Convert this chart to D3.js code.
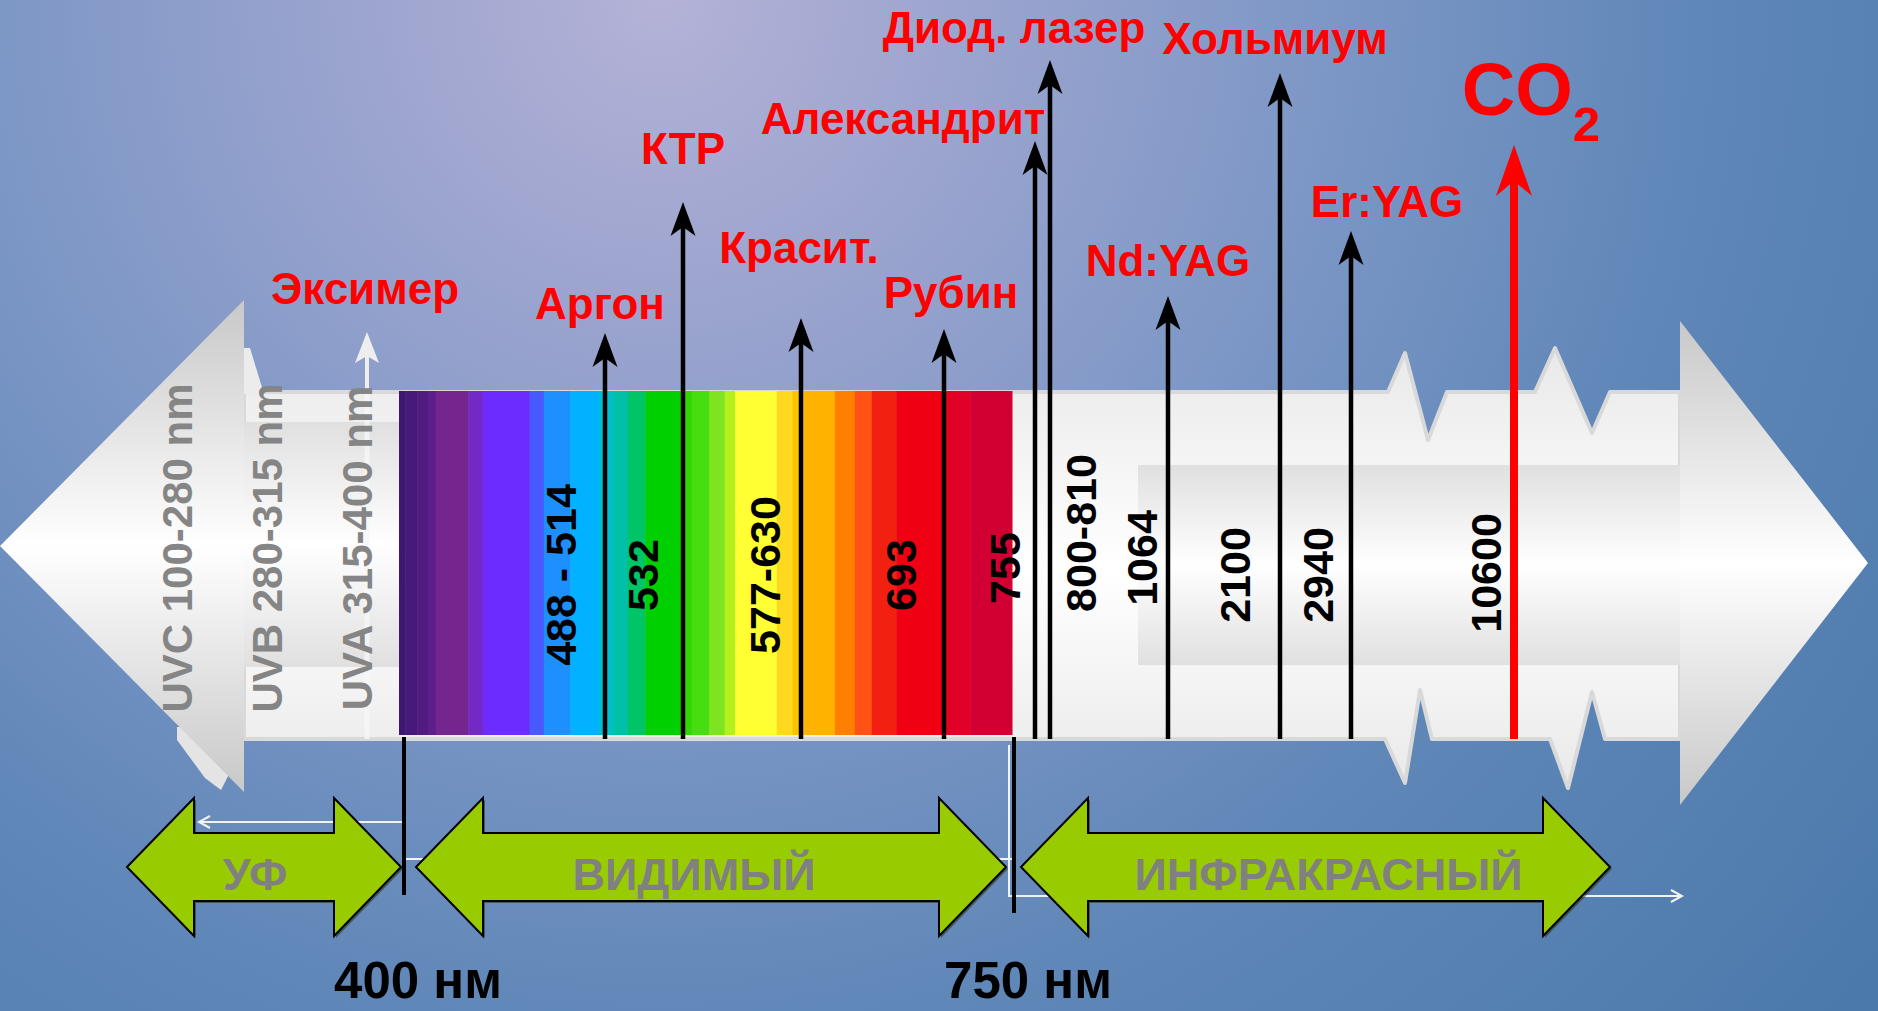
<!DOCTYPE html>
<html>
<head>
<meta charset="utf-8">
<script src="https://cdn.jsdelivr.net/npm/d3@7"></script>
<style>
  html, body { margin: 0; padding: 0; overflow: hidden; background: #6a8cbf; }
  text { font-family: 'Liberation Sans', Arial, sans-serif; font-weight: bold; }
</style>
</head>
<body>
<div id="chart"></div>
<script>
var width = 1878, height = 1011;

// lasers and their wavelengths (nm)
var laserNames = ['Эксимер', 'Аргон', 'КТР', 'Красит.', 'Рубин', 'Александрит', 'Диод. лазер', 'Nd:YAG', 'Хольмиум', 'Er:YAG', 'CO2'];
var laserNm = [308, 501, 532, 600, 693, 755, 805, 1064, 2100, 2940, 10600];
// how high each arrow reaches (px above the bottom of the band)
var laserLevel = [408, 407, 538, 422, 411, 599, 680, 444, 667, 509, 595];

// wavelength labels written inside the band
var nmLabels = ['488 - 514', '532', '577-630', '693', '755', '800-810', '1064', '2100', '2940', '10600'];
var nmLabelAt = [501, 532, 600, 693, 755, 805, 1064, 2100, 2940, 10600];

// ultraviolet sub-bands
var uvLabels = ['UVC 100-280 nm', 'UVB 280-315 nm', 'UVA 315-400 nm'];

// visible spectrum: band edges (nm) and colours
var specEdges = [400, 403, 409, 414, 418, 434, 441, 464, 471, 484, 498, 504, 510, 517, 531, 537, 547, 556, 562, 586, 595, 602, 622, 635, 646, 662, 696, 715, 750];
var specColors = ['#3c1870', '#46197a', '#511b80', '#5c1e88', '#74258e', '#7229c6', '#6c2bff', '#4759ff', '#1e8fff', '#00b2ff',
                  '#00c0d0', '#00c0a8', '#00c468', '#00d000', '#2ed800', '#46de10', '#7ee420', '#b4f020', '#ffff33', '#ffd820',
                  '#ffc400', '#ffb300', '#ff8000', '#ff5214', '#f22010', '#ef0012', '#e00028', '#d20032'];

// regions at the bottom
var regionNames = ['УФ', 'ВИДИМЫЙ', 'ИНФРАКРАСНЫЙ'];
var regionNm = [[100, 400], [400, 750], [750, 10600]];
var boundaryLabels = ['400 нм', '750 нм'];
var boundaryNm = [400, 750];

// schematic (non linear) wavelength axis
var nmScale = d3.scaleLinear()
    .domain([100, 308, 400, 501, 532, 600, 693, 750, 755, 805, 1064, 2100, 2940, 10600, 20000])
    .range([0, 367, 399, 605, 683, 801, 944, 1012, 1035, 1050, 1168, 1280, 1351, 1514, 1868]);
var regionScale = d3.scaleLinear().domain([100, 400, 750, 10600]).range([127, 404, 1014, 1610]);
var uvScale = d3.scalePoint().domain(uvLabels).range([177, 357]);
var levelScale = d3.scaleLinear().domain([0, 700]).range([740, 40]);

var svg = d3.select('#chart').append('svg')
    .attr('width', width)
    .attr('height', height);

var defs = svg.append('defs');

var bg = defs.append('radialGradient').attr('id', 'bg')
    .attr('gradientUnits', 'userSpaceOnUse')
    .attr('cx', 660).attr('cy', 0).attr('r', 1600);
[[0, '#b4b2d7'], [0.15, '#a1a7d0'], [0.43, '#7b96c5'], [0.65, '#5f87b8'], [1, '#4a78aa']].forEach(function(s) {
    bg.append('stop').attr('offset', s[0]).attr('stop-color', s[1]);
});

function vGrad(id, edge, mid) {
    var g = defs.append('linearGradient').attr('id', id)
        .attr('x1', 0).attr('y1', 0).attr('x2', 0).attr('y2', 1);
    g.append('stop').attr('offset', 0).attr('stop-color', edge);
    g.append('stop').attr('offset', 0.5).attr('stop-color', mid);
    g.append('stop').attr('offset', 1).attr('stop-color', edge);
}
vGrad('head', '#c8c8c8', '#ffffff');
vGrad('shaft', '#e9e9e9', '#ffffff');
vGrad('inner', '#e0e0e0', '#ffffff');

svg.append('rect').attr('width', width).attr('height', height).style('fill', 'url(#bg)');

// ---- big double arrow ----
var shaftTop = 392, shaftBot = 739, mid = 546;

// hidden arrow pieces behind the left head
svg.append('polygon')
    .attr('points', '177,727 244,727 244,745 221,790 205,778 177,740')
    .style('fill', '#e4e4e4');

var shaftPts = [[244, shaftTop], [1388, shaftTop], [1405, 353], [1428, 440], [1447, shaftTop],
                [1535, shaftTop], [1555, 348], [1592, 433], [1610, shaftTop], [1680, shaftTop],
                [1680, shaftBot], [1605, shaftBot], [1592, 692], [1568, 788], [1550, shaftBot],
                [1432, shaftBot], [1420, 690], [1405, 783], [1385, shaftBot], [244, shaftBot]];
svg.append('polygon')
    .attr('points', shaftPts.map(function(p) { return p.join(','); }).join(' '))
    .style('fill', 'url(#shaft)')
    .style('stroke', '#d9d9d9')
    .style('stroke-width', 4)
    .style('stroke-linejoin', 'round');

svg.append('polygon').attr('points', '244,348 250,348 264,394 244,394').style('fill', '#ececec');

svg.append('rect').attr('x', 244).attr('y', 422).attr('width', 156).attr('height', 245)
    .style('fill', 'url(#inner)');
svg.append('rect').attr('x', 1138).attr('y', 465).attr('width', 542).attr('height', 200)
    .style('fill', 'url(#inner)');

svg.append('polygon').attr('points', '0,' + mid + ' 244,300 244,792').style('fill', 'url(#head)');
svg.append('polygon').attr('points', '1680,321 1868,563 1680,805').style('fill', 'url(#head)');

// ---- visible spectrum ----
var bands = specColors.map(function(c, i) { return { from: specEdges[i], to: specEdges[i + 1], color: c }; });
svg.selectAll('rect.band')
    .data(bands)
    .enter()
    .append('rect')
    .attr('class', 'band')
    .attr('x', function(d) { return nmScale(d.from); })
    .attr('y', 391)
    .attr('width', function(d) { return nmScale(d.to) - nmScale(d.from) + 0.5; })
    .attr('height', 344)
    .style('fill', function(d) { return d.color; });

// ---- laser arrows ----
var lasers = laserNames.map(function(n, i) {
    return { name: n, x: nmScale(laserNm[i]), tip: levelScale(laserLevel[i]) };
});

// excimer: white arrow, faint line through the band
var exc = lasers[0];
svg.append('line').attr('x1', exc.x).attr('x2', exc.x).attr('y1', shaftBot).attr('y2', shaftTop)
    .style('stroke', '#f7f7f7').style('stroke-width', 5).style('opacity', 0.8);
svg.append('line').attr('x1', exc.x).attr('x2', exc.x).attr('y1', shaftTop).attr('y2', exc.tip + 20)
    .style('stroke', '#eeeeee').style('stroke-width', 4);
svg.append('path').attr('d', 'M0,0 L12,31 L0,24 L-12,31 Z')
    .attr('transform', 'translate(' + exc.x + ',' + exc.tip + ')')
    .style('fill', '#eeeeee');

// uv labels
svg.selectAll('text.uv')
    .data(uvLabels)
    .enter()
    .append('text')
    .attr('class', 'uv')
    .attr('transform', function(d) { return 'translate(' + uvScale(d) + ',548) rotate(-90)'; })
    .attr('text-anchor', 'middle')
    .attr('dy', '0.36em')
    .style('font-size', '42px')
    .style('fill', '#858585')
    .text(function(d) { return d; });

var others = lasers.slice(1);
var arrows = svg.selectAll('g.laser')
    .data(others)
    .enter()
    .append('g')
    .attr('class', 'laser');

arrows.append('line')
    .attr('x1', function(d) { return d.x; })
    .attr('x2', function(d) { return d.x; })
    .attr('y1', shaftBot)
    .attr('y2', function(d) { return d.tip + 22; })
    .style('stroke', function(d) { return d.name === 'CO2' ? '#ff0000' : '#000'; })
    .style('stroke-width', function(d) { return d.name === 'CO2' ? 8 : 4.5; });

arrows.append('path')
    .attr('d', function(d) {
        return d.name === 'CO2' ? 'M0,0 L18,51 L0,36 L-18,51 Z' : 'M0,0 L12.5,34 L0,25 L-12.5,34 Z';
    })
    .attr('transform', function(d) { return 'translate(' + d.x + ',' + d.tip + ')'; })
    .style('fill', function(d) { return d.name === 'CO2' ? '#ff0000' : '#000'; });

// wavelength labels
svg.selectAll('text.nm')
    .data(nmLabels)
    .enter()
    .append('text')
    .attr('class', 'nm')
    .attr('transform', function(d, i) {
        var shift = [[-44, 575], [-40, 575], [-36, 575], [-43, 575], [-30, 568], [31, 533], [-26, 558], [-45, 575], [-33, 575], [-28, 573]][i];
        return 'translate(' + (nmScale(nmLabelAt[i]) + shift[0]) + ',' + shift[1] + ') rotate(-90)';
    })
    .attr('text-anchor', 'middle')
    .attr('dy', '0.36em')
    .style('font-size', '43px')
    .style('fill', '#000')
    .text(function(d) { return d; });

// red laser names
var nameShift = [[-2, -28], [-5, -14], [0, -38], [-2, -55], [7, -21], [-132, -7], [-36, -17], [0, -20], [-5, -19], [36, -14], [17, -30]];
var names = svg.selectAll('text.name')
    .data(lasers)
    .enter()
    .append('text')
    .attr('class', 'name')
    .attr('x', function(d, i) { return d.x + nameShift[i][0]; })
    .attr('y', function(d, i) { return d.tip + nameShift[i][1]; })
    .attr('text-anchor', 'middle')
    .style('font-size', function(d) { return d.name === 'CO2' ? '74px' : '44px'; })
    .style('fill', '#ff0000');
names.each(function(d) {
    var t = d3.select(this);
    if (d.name === 'CO2') {
        t.append('tspan').text('CO');
        t.append('tspan').attr('dy', 26).style('font-size', '49px').text('2');
    } else {
        t.text(d.name);
    }
});

// ---- thin white guide lines ----
var guide = svg.append('g').style('stroke', '#f2f2f2').style('stroke-width', 2).style('fill', 'none');
guide.append('line').attr('x1', regionScale(400)).attr('x2', 200).attr('y1', 822).attr('y2', 822);
guide.append('path').attr('d', 'M210,816 L199,822 L210,828').style('stroke-width', 2);
guide.append('line').attr('x1', regionScale(400)).attr('x2', regionScale(750)).attr('y1', 859).attr('y2', 859);
guide.append('polyline').attr('points', '1009,745 1009,896 1680,896');
guide.append('path').attr('d', 'M1671,890 L1682,896 L1671,902');

// ---- region arrows ----
var regions = regionNames.map(function(n, i) {
    var a = regionScale(regionNm[i][0]), b = regionScale(regionNm[i][1]);
    if (i > 0) a += [12, 7][i - 1];
    if (i < 2) b -= [3, 8][i];
    return { name: n, x0: a, x1: b };
});
function regionPath(d) {
    var h = 67, cy = 867, hh = 69, sh = 34;
    var p = [[d.x0, cy], [d.x0 + h, cy - hh], [d.x0 + h, cy - sh], [d.x1 - h, cy - sh], [d.x1 - h, cy - hh], [d.x1, cy],
             [d.x1 - h, cy + hh], [d.x1 - h, cy + sh], [d.x0 + h, cy + sh], [d.x0 + h, cy + hh]];
    return 'M' + p.map(function(q) { return q.join(','); }).join('L') + 'Z';
}
var reg = svg.selectAll('g.region')
    .data(regions)
    .enter()
    .append('g')
    .attr('class', 'region');
reg.append('path')
    .attr('d', regionPath)
    .attr('transform', 'translate(2,2)')
    .style('fill', '#2a3a20').style('opacity', 0.6);
reg.append('path')
    .attr('d', regionPath)
    .style('fill', '#99cc00')
    .style('stroke', '#000')
    .style('stroke-width', 2);
reg.append('text')
    .attr('x', function(d, i) { return (d.x0 + d.x1) / 2 + [-9, -17, 13][i]; })
    .attr('y', 890)
    .attr('text-anchor', 'middle')
    .style('font-size', '45px')
    .style('fill', '#808080')
    .text(function(d) { return d.name; });

// ---- boundaries ----
svg.selectAll('line.bound')
    .data(boundaryNm)
    .enter()
    .append('line')
    .attr('class', 'bound')
    .attr('x1', function(d) { return regionScale(d); })
    .attr('x2', function(d) { return regionScale(d); })
    .attr('y1', 737)
    .attr('y2', function(d, i) { return [895, 913][i]; })
    .style('stroke', '#000')
    .style('stroke-width', 4);

svg.selectAll('text.bound')
    .data(boundaryLabels)
    .enter()
    .append('text')
    .attr('class', 'bound')
    .attr('x', function(d, i) { return regionScale(boundaryNm[i]) + 14; })
    .attr('y', 998)
    .attr('text-anchor', 'middle')
    .style('font-size', '51px')
    .style('fill', '#000')
    .text(function(d) { return d; });
</script>
</body>
</html>
